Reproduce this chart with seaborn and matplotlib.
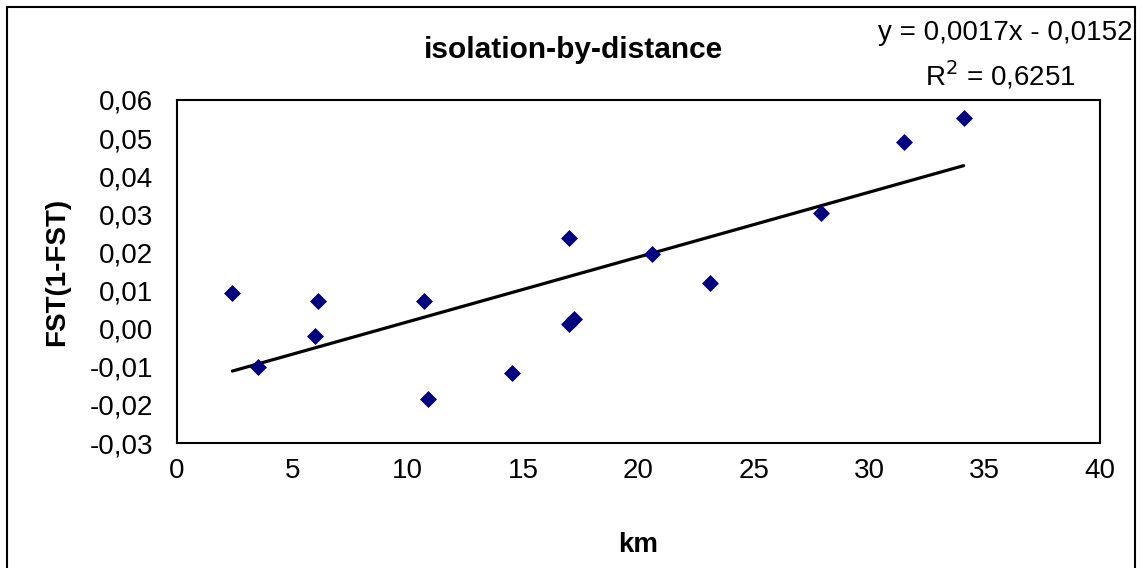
import pandas as pd
import matplotlib.pyplot as plt
import seaborn as sns
from matplotlib.ticker import FuncFormatter, MultipleLocator
from matplotlib.patches import Rectangle

# data
km = [2.4, 3.5, 6.0, 6.1, 10.7, 10.9, 14.5, 17.0, 17.0, 17.2, 20.6, 23.1, 27.9, 31.5, 34.1]
fst = [0.0094, -0.0101, -0.0018, 0.0073, 0.0073, -0.0184, -0.0115, 0.0239, 0.0013,
       0.0026, 0.0197, 0.0121, 0.0304, 0.0491, 0.0554]
slope = 0.0017
intercept = -0.0152
r2 = 0.6251

df = pd.DataFrame({"km": km, "fst": fst})

sns.set_style("white")
plt.rcParams['font.family'] = ['Liberation Sans', 'DejaVu Sans']
plt.rcParams['text.color'] = 'black'
plt.rcParams['axes.labelcolor'] = 'black'
plt.rcParams['xtick.color'] = 'black'
plt.rcParams['ytick.color'] = 'black'

fig = plt.figure(figsize=(11.42, 5.68), dpi=100)
ax = fig.add_axes([0.155, 0.22, 0.808, 0.604])

sns.scatterplot(data=df, x="km", y="fst", marker="D", color="#000080",
                s=75, edgecolor="#000080", linewidth=0, ax=ax, zorder=3)

# trend line over the data range
line = pd.DataFrame({"km": [min(km), max(km)]})
line["fst"] = slope * line["km"] + intercept
sns.lineplot(data=line, x="km", y="fst", color="black", linewidth=2.3, ax=ax, zorder=2)

ax.set_xlim(0, 40)
ax.set_ylim(-0.03, 0.06)
ax.xaxis.set_major_locator(MultipleLocator(5))
ax.yaxis.set_major_locator(MultipleLocator(0.01))
ax.yaxis.set_major_formatter(FuncFormatter(lambda v, p: f"{v:.2f}".replace(".", ",").replace("-0,00", "0,00")))
ax.tick_params(direction="inout", length=14, width=0.8, labelsize=20)
ax.tick_params(axis="x", pad=4)
ax.tick_params(axis="y", pad=10)
for sp in ax.spines.values():
    sp.set_color("black")
    sp.set_linewidth(1.5)

ax.set_xlabel("km", fontsize=20, fontweight="bold", labelpad=34)
ax.set_ylabel("FST(1-FST)", fontsize=20, fontweight="bold", labelpad=14)

fig.text(0.502, 0.912, "isolation-by-distance", fontsize=21.5, fontweight="bold",
         ha="center", va="center")
fig.text(0.992, 0.942, "y = 0,0017x - 0,0152", fontsize=20, ha="right", va="center")
fig.text(0.942, 0.868, "R$^2$ = 0,6251", fontsize=20, ha="right", va="center")

# outer chart border
fig.add_artist(Rectangle((0.006, -0.01), 0.988, 0.998, transform=fig.transFigure,
                         fill=False, edgecolor="black", linewidth=1.5))

fig.savefig("out.png", dpi=100)
